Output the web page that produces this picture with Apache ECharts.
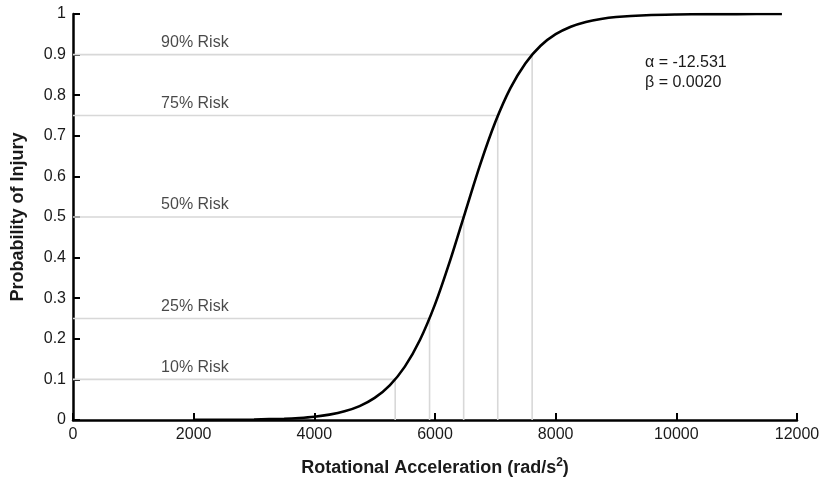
<!DOCTYPE html>
<html>
<head>
<meta charset="utf-8">
<script src="https://cdn.jsdelivr.net/npm/echarts@6/dist/echarts.min.js"></script>
<style>html,body{margin:0;padding:0;background:#fff}#c{width:835px;height:479px}</style>
</head>
<body>
<div id="c"></div>
<script>
// Curve values
const accel = [2000, 2500, 3000, 3500, 3750, 4000, 4250, 4500, 4750, 5000, 5250, 5500, 5750, 6000, 6250, 6500, 6750, 7000, 7250, 7500, 7750, 8000, 8250, 8500, 8750, 9000, 9500, 10000, 10500, 11000, 11750];
const prob = [0.0002, 0.0005, 0.0012, 0.0032, 0.0051, 0.0082, 0.0133, 0.0214, 0.0342, 0.0544, 0.0853, 0.1314, 0.197, 0.2847, 0.3924, 0.5116, 0.6296, 0.7338, 0.8173, 0.8789, 0.9217, 0.9502, 0.9687, 0.9805, 0.9879, 0.9925, 0.9971, 0.9989, 0.9996, 0.9998, 0.9999];
// Risk levels and the acceleration at which the curve reaches them
const riskLevels = [0.1, 0.25, 0.5, 0.75, 0.9];
const riskAccel = [5340, 5910, 6475, 7040, 7610];
const riskLabels = ['10% Risk', '25% Risk', '50% Risk', '75% Risk', '90% Risk'];
const riskLabelX = 2020;
const xTicks = [0, 2000, 4000, 6000, 8000, 10000, 12000];
const yTicks = [0, 0.1, 0.2, 0.3, 0.4, 0.5, 0.6, 0.7, 0.8, 0.9, 1];
const paramText = ['α = -12.531', 'β = 0.0020'];

const font = '"Liberation Sans", Arial, sans-serif';
const txt = '#1a1a1a';
const chart = echarts.init(document.getElementById('c'));

const riskSeries = riskLevels.map((p, i) => ({
  type: 'line',
  data: [[0, p], [riskAccel[i], p], [riskAccel[i], 0]],
  symbol: 'none',
  lineStyle: { color: '#d8d8d8', width: 1.6 },
  silent: true,
  z: 1
}));

chart.setOption({
  animation: false,
  backgroundColor: '#fff',
  grid: { left: 73, right: 38, top: 14, bottom: 59, containLabel: false, outerBoundsMode: 'none' },
  xAxis: {
    type: 'value', min: 0, max: 12000, interval: 2000,
    name: 'Rotational Acceleration (rad/s{sup|2})',
    nameLocation: 'middle', nameGap: 37,
    nameTextStyle: {
      fontFamily: font, fontSize: 18, fontWeight: 'bold', color: txt,
      rich: { sup: { fontFamily: font, fontSize: 12, fontWeight: 'bold', color: txt, verticalAlign: 'top', padding: [0, 0, 10, 0] } }
    },
    axisLine: { lineStyle: { color: '#000', width: 2.5 } },
    axisTick: { inside: true, length: 7, lineStyle: { color: '#000', width: 2 } },
    axisLabel: { fontFamily: font, fontSize: 16, color: txt, margin: 7, formatter: v => xTicks.includes(v) ? String(v) : '' },
    splitLine: { show: false }
  },
  yAxis: {
    type: 'value', min: 0, max: 1, interval: 0.1,
    name: 'Probability of Injury',
    nameLocation: 'middle', nameGap: 46,
    nameTextStyle: { fontFamily: font, fontSize: 18, fontWeight: 'bold', color: txt },
    axisLine: { lineStyle: { color: '#000', width: 2.5 } },
    axisTick: { inside: true, length: 7, lineStyle: { color: '#000', width: 2 } },
    axisLabel: { fontFamily: font, fontSize: 16, color: txt, margin: 7,
      formatter: v => { const t = yTicks.find(y => Math.abs(y - v) < 1e-9); return t === undefined ? '' : String(t); } },
    splitLine: { show: false }
  },
  series: [
    ...riskSeries,
    {
      type: 'scatter',
      data: riskLevels.map((p, i) => ({ value: [riskLabelX, p], label: { formatter: riskLabels[i] } })),
      symbolSize: 0,
      silent: true,
      label: { show: true, position: 'top', distance: 4, fontFamily: font, fontSize: 16, color: txt },
      z: 3
    },
    {
      type: 'line',
      data: accel.map((x, i) => [x, prob[i]]),
      smooth: 0.3,
      symbol: 'none',
      lineStyle: { color: '#000', width: 2.6 },
      z: 5
    }
  ],
  graphic: [
    { type: 'text', left: 645, top: 53, style: { text: paramText.join('\n'), font: '16px ' + font, fill: txt, lineHeight: 20 } }
  ]
});
</script>
</body>
</html>
